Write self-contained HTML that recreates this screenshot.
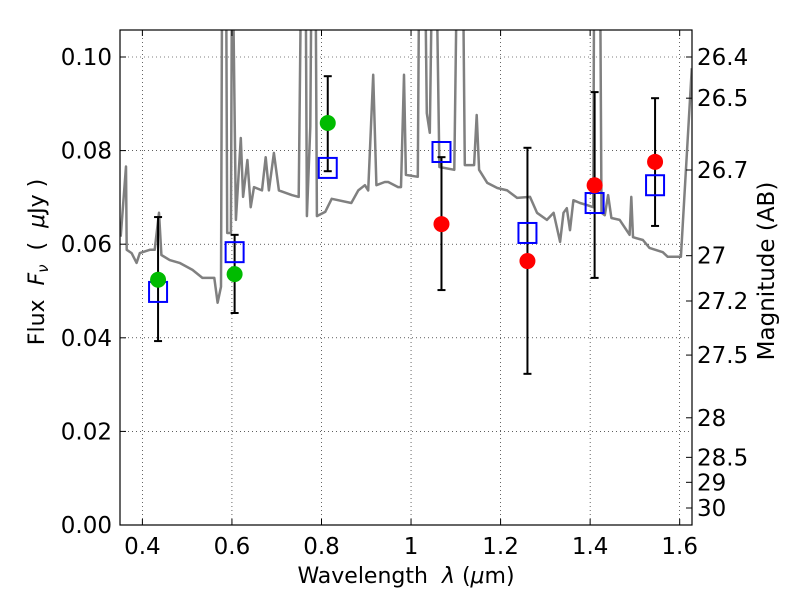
<!DOCTYPE html>
<html><head><meta charset="utf-8"><style>
body{margin:0;background:#fff;}
svg text{font-family:"DejaVu Sans","Liberation Sans",sans-serif;}
</style></head><body>
<svg id="chart" width="800" height="600" xmlns="http://www.w3.org/2000/svg">
<defs><clipPath id="clip"><rect x="120" y="30" width="572" height="495"/></clipPath></defs>
<g id="grid"></g>
<g id="spec" clip-path="url(#clip)"></g>
<g id="marks"></g>
<rect x="120" y="30" width="572" height="495" fill="none" stroke="#000" stroke-width="1.2"/>
<g id="axes"></g>
<text x="406" y="583" font-size="22" text-anchor="middle" xml:space="preserve">Wavelength  <tspan font-style="italic">λ</tspan> (<tspan font-style="italic">μ</tspan>m)</text>
<text transform="translate(44,262) rotate(-90)" font-size="22" text-anchor="middle" xml:space="preserve">Flux  <tspan font-style="italic">F<tspan font-size="15" dy="4">ν</tspan></tspan><tspan dy="-4">  (  </tspan><tspan font-style="italic">μ</tspan>Jy )</text>
<text transform="translate(774,271) rotate(-90)" font-size="23" text-anchor="middle">Magnitude (AB)</text>
</svg>
<script>
const NS="http://www.w3.org/2000/svg";
const xTicks=[0.4,0.6,0.8,1.0,1.2,1.4,1.6];
const xTickLabels=["0.4","0.6","0.8","1","1.2","1.4","1.6"];
const yTicks=[0,0.02,0.04,0.06,0.08,0.10];
const yTickLabels=["0.00","0.02","0.04","0.06","0.08","0.10"];
const magTicks=[26.4,26.5,26.7,27,27.2,27.5,28,28.5,29,30];
const magTickLabels=["26.4","26.5","26.7","27","27.2","27.5","28","28.5","29","30"];
const bandWave=[0.435,0.606,0.814,1.068,1.26,1.41,1.545];
const obsFlux=[0.0524,0.0536,0.0859,0.0643,0.0564,0.0726,0.0776];
const obsColor=["#00bb00","#00bb00","#00bb00","#ff0000","#ff0000","#ff0000","#ff0000"];
const errHigh=[0.0658,0.0620,0.0959,0.0786,0.0806,0.0925,0.0912];
const errLow=[0.0393,0.0453,0.0756,0.0502,0.0323,0.0528,0.0639];
const modelFlux=[0.0498,0.0583,0.0763,0.0797,0.0624,0.0688,0.0726];
const specWave=[0.3515,0.3633,0.3649,0.376,0.387,0.3943,0.4165,0.4276,0.4371,0.4425,0.4609,0.483,0.5119,0.534,0.5606,0.568,0.5755,0.5784,0.5866,0.5895,0.5977,0.6006,0.6088,0.6198,0.6249,0.6345,0.642,0.6493,0.6671,0.6753,0.6826,0.6937,0.7048,0.7336,0.7491,0.7558,0.764,0.7675,0.775,0.7786,0.7861,0.7897,0.8083,0.8229,0.8666,0.8822,0.897,0.9043,0.9154,0.9227,0.9414,0.949,0.971,0.9775,0.9842,0.9886,1.0152,1.019,1.03,1.0352,1.0418,1.0485,1.0551,1.0633,1.0966,1.1039,1.115,1.1201,1.1409,1.1467,1.152,1.1704,1.1926,1.2148,1.2369,1.2657,1.2813,1.3034,1.3183,1.3329,1.3404,1.3478,1.3551,1.3626,1.3773,1.3922,1.407,1.4092,1.4216,1.4254,1.4327,1.4401,1.4476,1.466,1.4882,1.4919,1.4957,1.5179,1.5325,1.5622,1.5732,1.5954,1.6027,1.627];
const specFlux=[0.0616,0.0766,0.0588,0.0581,0.056,0.0581,0.0588,0.0588,0.0667,0.0577,0.0566,0.056,0.0545,0.0528,0.0528,0.0475,0.0509,0.13,0.13,0.0624,0.0624,0.13,0.0652,0.0827,0.0701,0.078,0.0679,0.0722,0.0715,0.0786,0.0715,0.0795,0.0715,0.0705,0.0701,0.13,0.13,0.066,0.0851,0.13,0.13,0.066,0.0669,0.0697,0.0688,0.0715,0.0726,0.0715,0.0962,0.0726,0.0733,0.0733,0.0722,0.0722,0.0962,0.0748,0.0744,0.13,0.13,0.088,0.0838,0.13,0.13,0.0765,0.0759,0.13,0.13,0.0769,0.0769,0.0876,0.0759,0.0731,0.072,0.0715,0.0699,0.0701,0.0667,0.0652,0.0667,0.0605,0.0667,0.0677,0.063,0.0694,0.0688,0.0684,0.0679,0.13,0.13,0.0667,0.0662,0.0705,0.0656,0.0652,0.062,0.0701,0.0615,0.0609,0.0592,0.0583,0.0573,0.0573,0.0573,0.0976];
const X0=120,X1=692,Y0=525,Y1=30,XMIN=0.35,XMAX=1.6275,YMIN=0,YMAX=0.10577;
const sx=v=>X0+(v-XMIN)/(XMAX-XMIN)*(X1-X0);
const sy=v=>Y0-(v-YMIN)/(YMAX-YMIN)*(Y0-Y1);
const magToFlux=m=>Math.pow(10,(23.9-m)/2.5);
function mk(tag,attrs,parent){const e=document.createElementNS(NS,tag);for(const k in attrs)e.setAttribute(k,attrs[k]);parent.appendChild(e);return e;}
const grid=document.getElementById('grid'),axes=document.getElementById('axes');
xTicks.forEach((t,i)=>{const x=sx(t);
 const g=mk('line',{x1:x,x2:x,y1:Y1,y2:Y0,stroke:'#000','stroke-width':0.6,'stroke-dasharray':'1,3'},grid);
 
 
 mk('line',{x1:x,x2:x,y1:Y0,y2:Y0-6,stroke:'#000'},axes);
 mk('line',{x1:x,x2:x,y1:Y1,y2:Y1+6,stroke:'#000'},axes);
 const tx=mk('text',{x:x,y:554,'font-size':23,'text-anchor':'middle'},axes);tx.textContent=xTickLabels[i];
 
 });
yTicks.forEach((t,i)=>{const y=sy(t);
 if(i>0){const g=mk('line',{x1:X0,x2:X1,y1:y,y2:y,stroke:'#000','stroke-width':0.6,'stroke-dasharray':'1,3'},grid);
 
 }
 mk('line',{x1:X0,x2:X0+6,y1:y,y2:y,stroke:'#000'},axes);
 const tx=mk('text',{x:112,y:y+8,'font-size':23,'text-anchor':'end'},axes);tx.textContent=yTickLabels[i];
 
 });
magTicks.forEach((m,i)=>{const y=sy(magToFlux(m));
 mk('line',{x1:X1,x2:X1-6,y1:y,y2:y,stroke:'#000'},axes);
 const tx=mk('text',{x:697,y:y+8,'font-size':23},axes);tx.textContent=magTickLabels[i];
 
 });
const spec=document.getElementById('spec');
let d=specWave.map((w,i)=>(i?'L':'M')+sx(w).toFixed(1)+','+sy(specFlux[i]).toFixed(1)).join(' ');
const p=mk('path',{d:d,fill:'none',stroke:'#808080','stroke-width':2.5,'stroke-linejoin':'round'},spec);


const marks=document.getElementById('marks');
bandWave.forEach((w,i)=>{const x=sx(w);
 const eg=mk('g',{},marks);
 
 
 mk('line',{x1:x,x2:x,y1:sy(errHigh[i]),y2:sy(errLow[i]),stroke:'#000','stroke-width':2},eg);
 mk('line',{x1:x-4,x2:x+4,y1:sy(errHigh[i]),y2:sy(errHigh[i]),stroke:'#000','stroke-width':2},eg);
 mk('line',{x1:x-4,x2:x+4,y1:sy(errLow[i]),y2:sy(errLow[i]),stroke:'#000','stroke-width':2},eg);
 const s=mk('rect',{x:x-9,y:sy(modelFlux[i])-10,width:18,height:20,fill:'none',stroke:'#0000ff','stroke-width':2},marks);
 
 
 const c=mk('circle',{cx:x,cy:sy(obsFlux[i]),r:8,fill:obsColor[i]},marks);
 
 });
</script>
</body></html>
